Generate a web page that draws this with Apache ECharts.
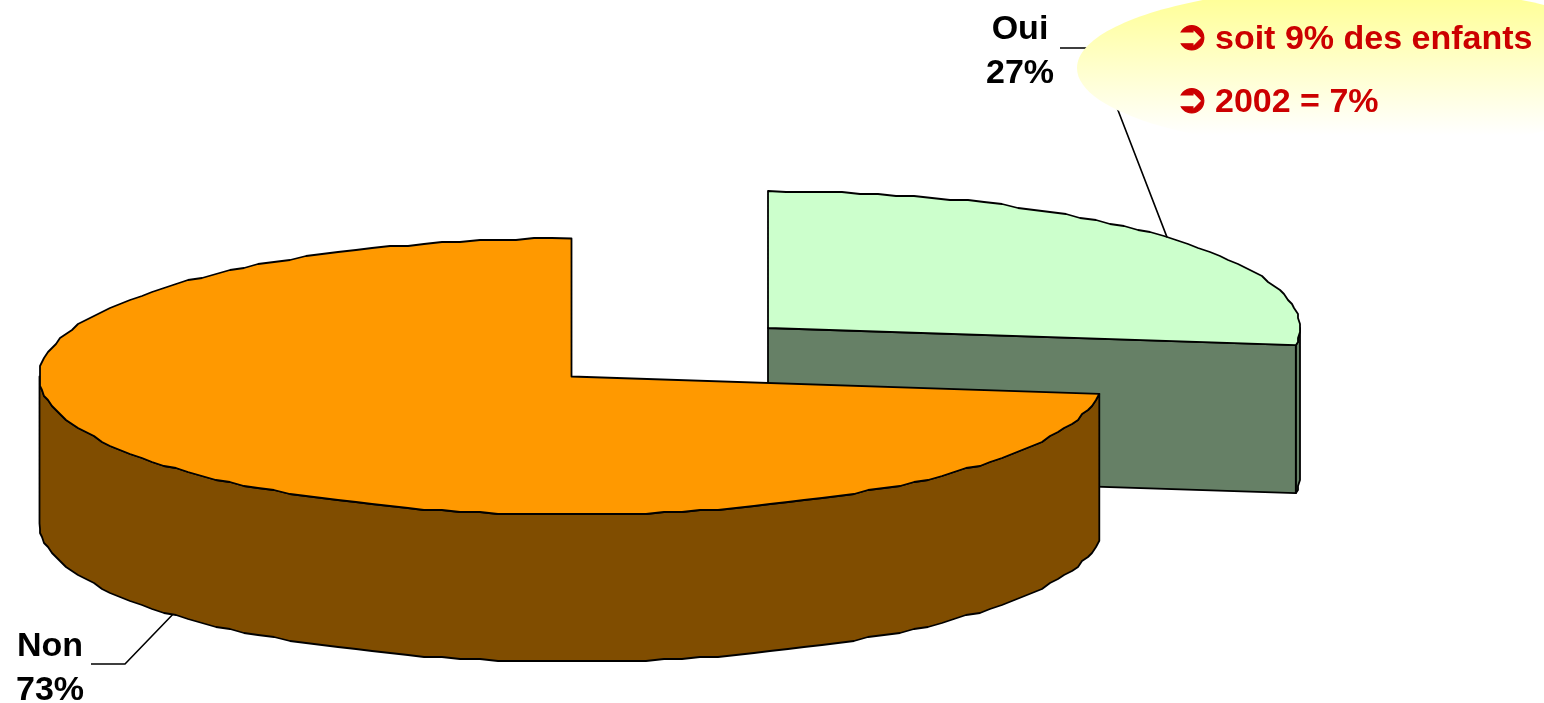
<!DOCTYPE html>
<html>
<head>
<meta charset="utf-8">
<title>Pie</title>
<style>
  html, body { margin: 0; padding: 0; background: #fff; }
  #main { width: 1544px; height: 703px; }
</style>
<script src="https://cdn.jsdelivr.net/npm/echarts@6/dist/echarts.min.js"></script>
</head>
<body>
<div id="main"></div>
<script>
const categories = ['Oui', 'Non'];
const shares = [27, 73];
const notes = ['soit 9% des enfants', '2002 = 7%'];

// pie geometry, one entry per category
const centers = [[768, 328], [571.5, 376.5]];
const radiusX = [532, 532];
const radiusY = [137, 138];
const depths = [148, 147];
const topColors = ['#CCFFCC', '#FF9900'];
const sideColors = ['#668066', '#804D00'];
const labelPos = [[1020, 52], [50, 669]];
const leaderElbows = [
  [[1094, 48], [1060, 48]],
  [[125, 664], [91, 664]]
];

const total = shares.reduce((a, b) => a + b, 0);
const startAngles = shares.map((v, i) => shares.slice(0, i).reduce((a, b) => a + b, 0) / total * 360);

const snap = (v) => Math.round(v / 2) * 2; // the source has a stepped outline

// angle is clockwise from the top of the ellipse
function rimPoint(i, angle) {
  const a = angle * Math.PI / 180;
  return [centers[i][0] + radiusX[i] * Math.sin(a), centers[i][1] - radiusY[i] * Math.cos(a)];
}

function arcPoints(i, from, to) {
  const pts = [rimPoint(i, from)];
  for (let a = Math.ceil(from / 2) * 2 + 2; a < to; a += 2) {
    const p = rimPoint(i, a);
    pts.push([snap(p[0]), snap(p[1])]);
  }
  pts.push(rimPoint(i, to));
  return pts;
}

const down = (pts, d) => pts.map((p) => [p[0], p[1] + d]).reverse();

function poly(points, fill) {
  return {
    type: 'polygon',
    shape: { points: points },
    style: { fill: fill, stroke: '#000', lineWidth: 1.8, lineJoin: 'round' }
  };
}

function renderSlice(params, api) {
  const i = api.value(0);
  const from = startAngles[i];
  const to = from + api.value(1) / total * 360;
  const c = centers[i];
  const d = depths[i];
  const arc = arcPoints(i, from, to);
  const children = [];

  const end = rimPoint(i, to);
  if (from === 0) {
    // slice that ends past the right side: a sliver of wall and the flat cut face
    const wall = arcPoints(i, Math.max(to - 7.2, 90), to);
    children.push(poly(wall.concat(down(wall, d)), sideColors[i]));
    children.push(poly([c, end, [end[0], end[1] + d], [c[0], c[1] + d]], sideColors[i]));
  } else {
    // visible outer wall: the part of the rim between 90 and 270 degrees
    const wall = arcPoints(i, Math.max(from, 90), Math.min(to, 270));
    children.push(poly(wall.concat(down(wall, d)), sideColors[i]));
  }

  // top
  children.push(poly([c].concat(arc), topColors[i]));

  // leader line goes to the middle of the slice
  const mid = rimPoint(i, (from + to) / 2);
  const anchor = mid[1] > c[1] ? [mid[0], mid[1] + d] : mid;
  children.push({
    type: 'polyline',
    shape: { points: [anchor].concat(leaderElbows[i]) },
    style: { fill: 'none', stroke: '#000', lineWidth: 1.6 }
  });

  children.push({
    type: 'text',
    style: {
      text: categories[i] + '\n' + api.value(1) + '%',
      x: labelPos[i][0],
      y: labelPos[i][1],
      align: 'center',
      verticalAlign: 'middle',
      lineHeight: 44,
      fill: '#000',
      font: 'bold 34px "Liberation Sans", Arial, sans-serif'
    }
  });

  return { type: 'group', children: children };
}

const my_echart = echarts.init(document.getElementById('main'), null, { renderer: 'canvas' });

const arrowStyle = { text: '➲', fill: '#CC0000', stroke: '#CC0000', lineWidth: 1.2, verticalAlign: 'middle', font: 'bold 40px "DejaVu Sans"' };
const noteFont = 'bold 34px "Liberation Sans", Arial, sans-serif';

my_echart.setOption({
  animation: false,
  tooltip: { show: false },
  series: [
    {
      type: 'custom',
      coordinateSystem: 'none',
      silent: true,
      z: 1,
      renderItem: renderSlice,
      data: shares.map((v, i) => [i, v])
    }
  ],
  graphic: {
    z: 10,
    elements: [
      {
        type: 'ellipse',
        z: 10,
        silent: true,
        shape: { cx: 1362, cy: 68, rx: 285, ry: 82 },
        style: {
          fill: new echarts.graphic.LinearGradient(0, 0, 0, 1, [
            { offset: 0.085, color: '#FFFF99' },
            { offset: 0.91, color: '#FFFFFF' }
          ])
        }
      },
      { type: 'text', z: 11, silent: true, x: 1175, y: 39, style: arrowStyle },
      {
        type: 'text', z: 11, silent: true, x: 1215, y: 40,
        style: { text: notes[0], fill: '#CC0000', verticalAlign: 'middle', font: noteFont }
      },
      { type: 'text', z: 11, silent: true, x: 1175, y: 102, style: arrowStyle },
      {
        type: 'text', z: 11, silent: true, x: 1215, y: 103,
        style: { text: notes[1], fill: '#CC0000', verticalAlign: 'middle', font: noteFont }
      }
    ]
  }
});
</script>
</body>
</html>
